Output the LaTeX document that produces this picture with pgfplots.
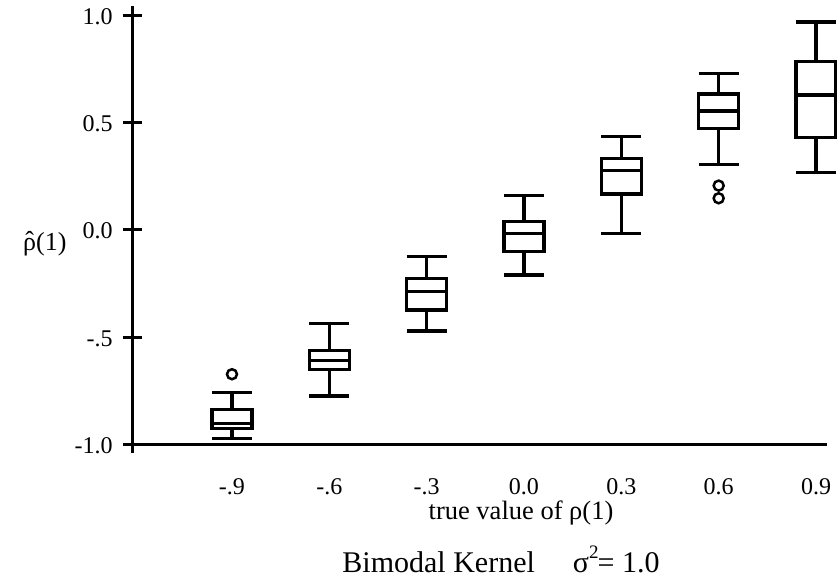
\documentclass[border=0pt]{standalone}
\usepackage{pgfplots}
\pgfplotsset{compat=1.18}
\usepgfplotslibrary{statistics}
\usepackage{fontspec}
\setmainfont{Liberation Serif}

\begin{document}
\begin{tikzpicture}[x=1pt,y=1pt]
\useasboundingbox (0,0) rectangle (837,581);
\begin{axis}[
  at={(132.7pt,136.7pt)}, anchor=south west,
  scale only axis, width=694pt, height=438.3pt,
  xmin=-1.206, xmax=0.933, ymin=-1, ymax=1.045,
  axis x line=bottom, axis y line=left,
  axis line style={-, line width=3.5pt, black},
  y axis line style={shorten <=-9pt},
  clip=false,
  xtick={-0.9,-0.6,-0.3,0,0.3,0.6,0.9},
  xticklabels={-.9,-.6,-.3,0.0,0.3,0.6,0.9},
  ytick={-1,-0.5,0,0.5,1},
  yticklabels={-1.0,-.5,0.0,0.5,1.0},
  x tick style={draw=none},
  y tick style={line width=3pt, black},
  major tick length=19pt, tick align=center,
  tick label style={font=\fontsize{24}{28}\selectfont},
  xticklabel style={anchor=base, yshift=-41pt},
  yticklabel style={anchor=base east, xshift=-7pt, yshift=-9pt},
  boxplot/draw direction=y,
]
\addplot[black, line width=3.2pt, boxplot prepared={draw position=-0.9,
  lower whisker=-0.973, lower quartile=-0.927, median=-0.902,
  upper quartile=-0.836, upper whisker=-0.759,
  box extend=0.123, whisker extend=0.123}] coordinates {};
\addplot[black, line width=3.2pt, boxplot prepared={draw position=-0.6,
  lower whisker=-0.775, lower quartile=-0.652, median=-0.608,
  upper quartile=-0.562, upper whisker=-0.438,
  box extend=0.123, whisker extend=0.123}] coordinates {};
\addplot[black, line width=3.2pt, boxplot prepared={draw position=-0.3,
  lower whisker=-0.471, lower quartile=-0.373, median=-0.288,
  upper quartile=-0.227, upper whisker=-0.125,
  box extend=0.123, whisker extend=0.123}] coordinates {};
\addplot[black, line width=3.2pt, boxplot prepared={draw position=0,
  lower whisker=-0.210, lower quartile=-0.101, median=-0.015,
  upper quartile=0.039, upper whisker=0.160,
  box extend=0.123, whisker extend=0.123}] coordinates {};
\addplot[black, line width=3.2pt, boxplot prepared={draw position=0.3,
  lower whisker=-0.015, lower quartile=0.168, median=0.277,
  upper quartile=0.332, upper whisker=0.437,
  box extend=0.123, whisker extend=0.123}] coordinates {};
\addplot[black, line width=3.2pt, boxplot prepared={draw position=0.6,
  lower whisker=0.304, lower quartile=0.472, median=0.555,
  upper quartile=0.634, upper whisker=0.730,
  box extend=0.123, whisker extend=0.123}] coordinates {};
\addplot[black, line width=3.2pt, boxplot prepared={draw position=0.9,
  lower whisker=0.269, lower quartile=0.433, median=0.630,
  upper quartile=0.787, upper whisker=0.970,
  box extend=0.123, whisker extend=0.123}] coordinates {};
\addplot[black, only marks, mark=o, mark size=5pt, line width=2.5pt]
  coordinates {(-0.9,-0.673) (0.6,0.207) (0.6,0.148)};
\node[anchor=base west, font=\fontsize{26}{30}\selectfont, inner sep=0pt]
  at (axis description cs:-0.158,0.4433)
  {\ooalign{ρ\cr\hidewidth\raisebox{0.02em}{ˆ}\hidewidth\cr}(1)};
\node[anchor=base, font=\fontsize{26.5}{30}\selectfont, inner sep=0pt]
  at (axis description cs:0.5595,-0.1727) {true value of ρ(1)};
\node[anchor=base, font=\fontsize{30}{36}\selectfont, inner sep=0pt]
  at (axis description cs:0.5307,-0.2914)
  {Bimodal Kernel\hspace{38pt}σ\raisebox{14pt}{\fontsize{19}{19}\selectfont 2}\kern-1pt= 1.0};
\end{axis}
\end{tikzpicture}
\end{document}
